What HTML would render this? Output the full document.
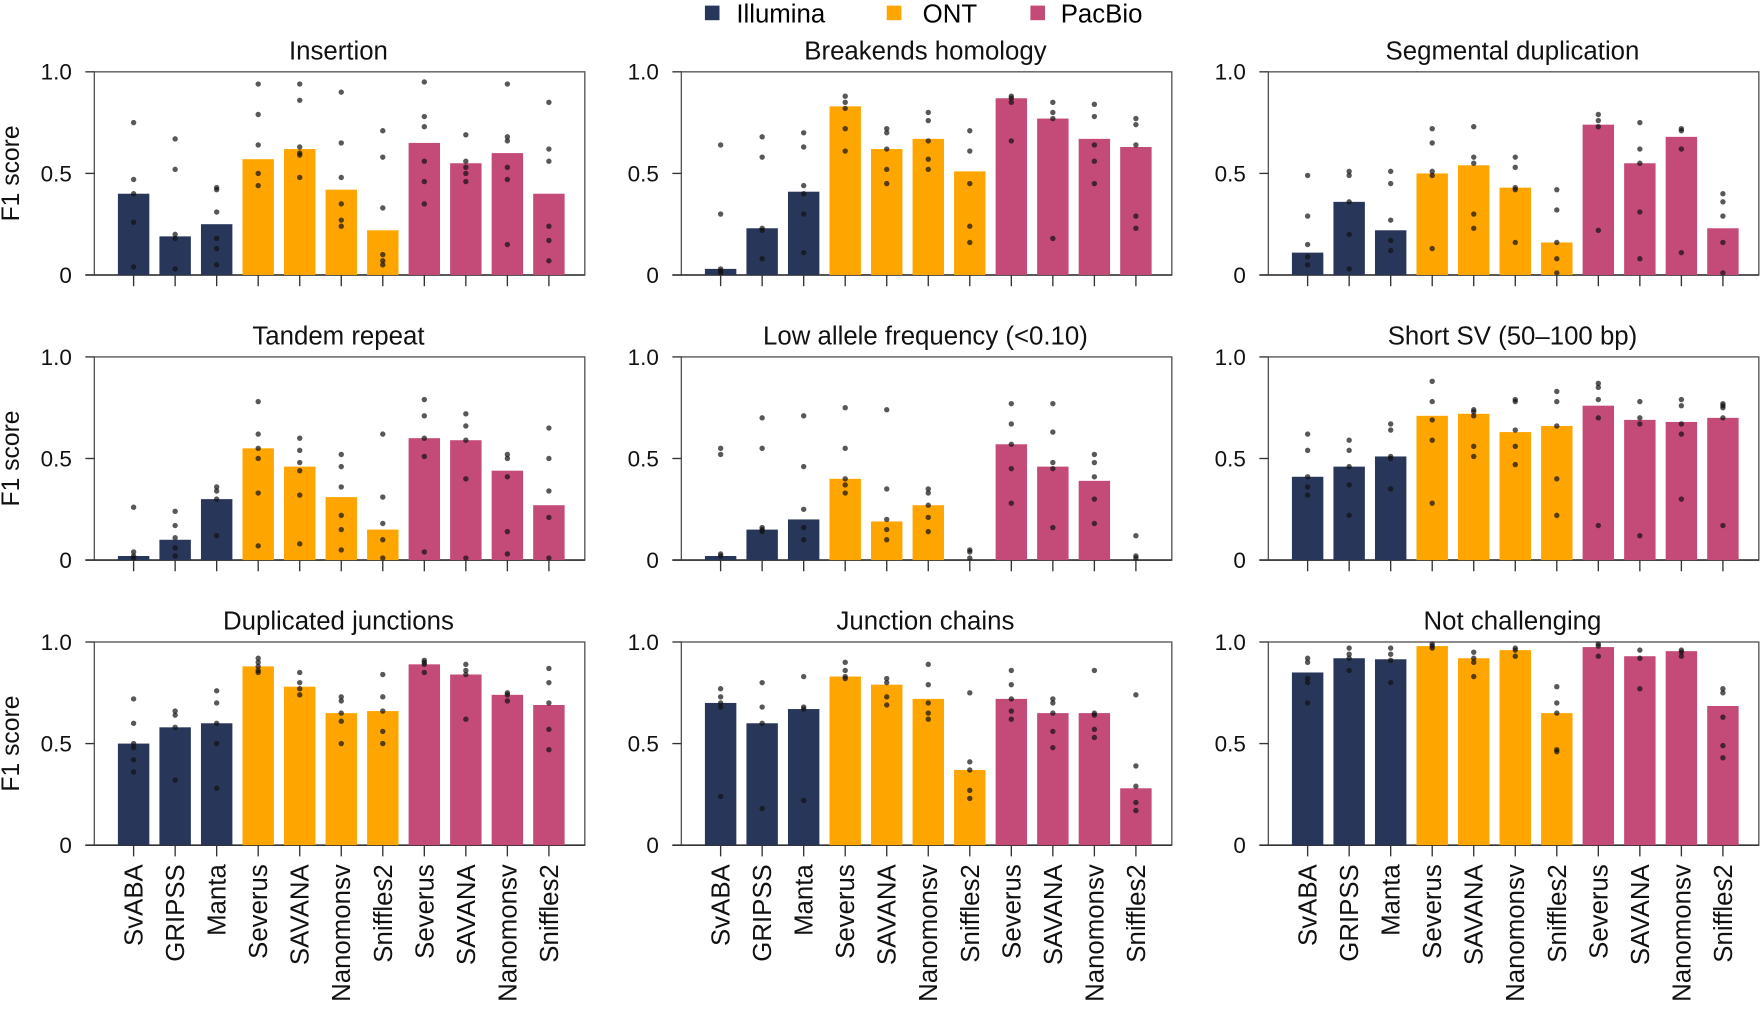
<!DOCTYPE html>
<html><head><meta charset="utf-8"><style>
body{margin:0;background:#fff;}
svg{display:block;font-family:"Liberation Sans",sans-serif;}
</style></head><body>
<svg id="chart" width="1760" height="1018" viewBox="0 0 1568 907" xmlns="http://www.w3.org/2000/svg">
<g>
<g><rect x="628" y="5" width="13" height="13" fill="#283759"/><text x="656" y="20" font-size="23">Illumina</text></g>
<g><rect x="790" y="5" width="13" height="13" fill="#FFA500"/><text x="822" y="20" font-size="23">ONT</text></g>
<g><rect x="918" y="5" width="13" height="13" fill="#C44A78"/><text x="945" y="20" font-size="23">PacBio</text></g>
</g>
</svg>
<script>
const categories=["SvABA","GRIPSS","Manta","Severus","SAVANA","Nanomonsv","Sniffles2","Severus","SAVANA","Nanomonsv","Sniffles2"];
const platforms=["Illumina","Illumina","Illumina","ONT","ONT","ONT","ONT","PacBio","PacBio","PacBio","PacBio"];
const panelTitles=["Insertion","Breakends homology","Segmental duplication","Tandem repeat","Low allele frequency (<0.10)","Short SV (50–100 bp)","Duplicated junctions","Junction chains","Not challenging"];
const yTicks=[0,0.5,1.0];
const yTickLabels=["0","0.5","1.0"];
const barsInsertion=[0.40,0.19,0.25,0.57,0.62,0.42,0.22,0.65,0.55,0.60,0.40];
const barsBreakends=[0.03,0.23,0.41,0.83,0.62,0.67,0.51,0.87,0.77,0.67,0.63];
const barsSegdup=[0.11,0.36,0.22,0.50,0.54,0.43,0.16,0.74,0.55,0.68,0.23];
const barsTandem=[0.02,0.10,0.30,0.55,0.46,0.31,0.15,0.60,0.59,0.44,0.27];
const barsLowAF=[0.02,0.15,0.20,0.40,0.19,0.27,0,0.57,0.46,0.39,0];
const barsShort=[0.41,0.46,0.51,0.71,0.72,0.63,0.66,0.76,0.69,0.68,0.70];
const barsDupJunc=[0.50,0.58,0.60,0.88,0.78,0.65,0.66,0.89,0.84,0.74,0.69];
const barsChains=[0.70,0.60,0.67,0.83,0.79,0.72,0.37,0.72,0.65,0.65,0.28];
const barsNotChal=[0.85,0.92,0.915,0.98,0.92,0.96,0.65,0.975,0.93,0.955,0.685];
const dotsInsertion=[[0.75,0.47,0.40,0.26,0.04],[0.67,0.52,0.20,0.18,0.03],[0.43,0.42,0.31,0.18,0.13,0.05],[0.94,0.79,0.64,0.50,0.44],[0.94,0.86,0.63,0.60,0.59,0.48],[0.90,0.65,0.48,0.35,0.27,0.24],[0.71,0.58,0.33,0.10,0.07,0.05],[0.95,0.78,0.73,0.56,0.46,0.35],[0.69,0.56,0.53,0.50,0.46],[0.94,0.68,0.66,0.53,0.47,0.15],[0.85,0.62,0.56,0.24,0.17,0.07]];
const dotsBreakends=[[0.64,0.30,0.03,0.02,0.01],[0.68,0.58,0.23,0.22,0.08],[0.70,0.63,0.44,0.40,0.30,0.11],[0.88,0.85,0.82,0.72,0.61],[0.72,0.70,0.62,0.52,0.45],[0.80,0.76,0.66,0.57,0.52],[0.71,0.61,0.45,0.24,0.16],[0.88,0.87,0.85,0.66],[0.85,0.80,0.77,0.18],[0.84,0.78,0.64,0.56,0.45],[0.77,0.74,0.64,0.29,0.23]];
const dotsSegdup=[[0.49,0.29,0.15,0.09,0.05],[0.51,0.49,0.36,0.20,0.03],[0.51,0.45,0.27,0.17,0.12],[0.72,0.65,0.51,0.49,0.13],[0.73,0.58,0.55,0.30,0.23],[0.58,0.53,0.43,0.42,0.16],[0.42,0.32,0.16,0.08,0.01],[0.79,0.76,0.73,0.22],[0.75,0.62,0.55,0.31,0.08],[0.72,0.71,0.62,0.11],[0.40,0.36,0.29,0.16,0.01]];
const dotsTandem=[[0.26,0.04,0.02,0.01],[0.24,0.17,0.11,0.06,0.02],[0.36,0.34,0.30,0.12],[0.78,0.62,0.55,0.50,0.33,0.07],[0.60,0.54,0.48,0.44,0.32,0.08],[0.52,0.46,0.36,0.22,0.15,0.05],[0.62,0.31,0.18,0.10,0.01],[0.79,0.71,0.60,0.51,0.04],[0.72,0.66,0.59,0.40,0.01],[0.52,0.50,0.41,0.14,0.03],[0.65,0.50,0.34,0.21,0.01]];
const dotsLowAF=[[0.55,0.52,0.03,0.02],[0.70,0.55,0.16,0.15,0.14],[0.71,0.46,0.25,0.16,0.10],[0.75,0.55,0.40,0.37,0.33],[0.74,0.35,0.20,0.15,0.10],[0.35,0.33,0.27,0.21,0.14],[0.05,0.04,0.01],[0.77,0.67,0.57,0.45,0.28],[0.77,0.63,0.48,0.45,0.16],[0.52,0.48,0.41,0.30,0.18],[0.12,0.02,0.01]];
const dotsShort=[[0.62,0.54,0.41,0.36,0.32],[0.59,0.54,0.46,0.37,0.22],[0.67,0.64,0.51,0.50,0.35],[0.88,0.78,0.69,0.59,0.28],[0.74,0.73,0.71,0.56,0.51],[0.79,0.78,0.64,0.56,0.47],[0.83,0.78,0.66,0.40,0.22],[0.87,0.85,0.79,0.70,0.17],[0.78,0.70,0.67,0.12],[0.79,0.76,0.67,0.62,0.30],[0.77,0.76,0.75,0.70,0.17]];
const dotsDupJunc=[[0.72,0.60,0.50,0.48,0.42,0.36],[0.66,0.64,0.58,0.32],[0.76,0.70,0.60,0.50,0.28],[0.92,0.90,0.88,0.86,0.85],[0.85,0.80,0.77,0.74],[0.73,0.71,0.65,0.61,0.50],[0.84,0.73,0.66,0.56,0.50],[0.91,0.90,0.89,0.85],[0.89,0.86,0.84,0.62],[0.75,0.74,0.71],[0.87,0.80,0.70,0.57,0.47]];
const dotsChains=[[0.77,0.73,0.70,0.68,0.24],[0.80,0.68,0.60,0.18],[0.83,0.68,0.67,0.22],[0.90,0.86,0.83,0.82],[0.82,0.80,0.73,0.69],[0.89,0.79,0.70,0.65,0.62],[0.75,0.41,0.37,0.27,0.23],[0.86,0.79,0.72,0.66,0.62],[0.72,0.70,0.65,0.56,0.48],[0.86,0.65,0.64,0.57,0.53],[0.74,0.39,0.29,0.21,0.17]];
const dotsNotChal=[[0.92,0.90,0.82,0.80,0.70],[0.97,0.94,0.92,0.86],[0.97,0.94,0.91,0.80],[0.99,0.98,0.97],[0.95,0.92,0.90,0.83],[0.97,0.96,0.93],[0.78,0.70,0.65,0.47,0.46],[0.99,0.98,0.93],[0.96,0.92,0.77],[0.96,0.95,0.93],[0.77,0.75,0.63,0.49,0.43]];

const allBars=[barsInsertion,barsBreakends,barsSegdup,barsTandem,barsLowAF,barsShort,barsDupJunc,barsChains,barsNotChal];
const allDots=[dotsInsertion,dotsBreakends,dotsSegdup,dotsTandem,dotsLowAF,dotsShort,dotsDupJunc,dotsChains,dotsNotChal];
const colors={Illumina:"#283759",ONT:"#FFA500",PacBio:"#C44A78"};
const NS="http://www.w3.org/2000/svg";
const svg=document.getElementById('chart');
function mk(tag,attrs,parent){const e=document.createElementNS(NS,tag);for(const k in attrs)e.setAttribute(k,attrs[k]);parent.appendChild(e);return e;}
const colLeft=[84,607,1130], rowTop=[64,318,572], W=437, H=181;
function slug(s){return s.toLowerCase().replace(/[^a-z0-9]+/g,'-').replace(/^-|-$/g,'');}
for(let p=0;p<9;p++){
  const L=colLeft[p%3], T=rowTop[Math.floor(p/3)], B=T+H;
  const yS=v=>B-v*H;
  const xS=i=>L+35+i*37;
  const g=mk('g',{},svg);
  
  
  const t=mk('text',{x:L+W/2-1,y:T-11,'font-size':23,'text-anchor':'middle',fill:'#111'},g);
  
  
  t.textContent=panelTitles[p];
  const fr=mk('rect',{x:L,y:T,width:W,height:H,fill:'none',stroke:'#555','stroke-width':1.2},g);
  
  
  yTicks.forEach((v,k)=>{
    const tk=mk('line',{x1:L-8,x2:L,y1:yS(v),y2:yS(v),stroke:'#333','stroke-width':1.2},g);
    
    
    const tl=mk('text',{x:L-20,y:yS(v)+7,'font-size':20,'text-anchor':'end',fill:'#111'},g);
    
    
    tl.textContent=yTickLabels[k];
  });
  mk('line',{x1:L-8,x2:L+W,y1:B,y2:B,stroke:'#333','stroke-width':1.4},g);
  if(p%3===0){
    const yt=mk('text',{x:0,y:0,'font-size':22,'text-anchor':'middle',fill:'#111',transform:`translate(17,${T+H/2}) rotate(-90)`},g);
    
    
    yt.textContent='F1 score';
  }
  const bars=allBars[p], dots=allDots[p];
  categories.forEach((c,i)=>{
    const x=xS(i);
    const r=mk('rect',{x:x-14,y:yS(bars[i]),width:28,height:bars[i]*H,fill:colors[platforms[i]]},g);
    
    
    dots[i].forEach(v=>{
      const d=mk('circle',{cx:x,cy:yS(v),r:2.4,fill:'#111','fill-opacity':0.7},g);
      
      
    });
    const xt=mk('line',{x1:x,x2:x,y1:B,y2:B+10,stroke:'#333','stroke-width':1.2},g);
    
    
    if(p>=6){
      const xl=mk('text',{x:0,y:0,'font-size':23,'text-anchor':'end',fill:'#111',transform:`translate(${x+8},${B+17}) rotate(-90)`},g);
      
      
      xl.textContent=c;
    }
  });
}
</script>
</body></html>
